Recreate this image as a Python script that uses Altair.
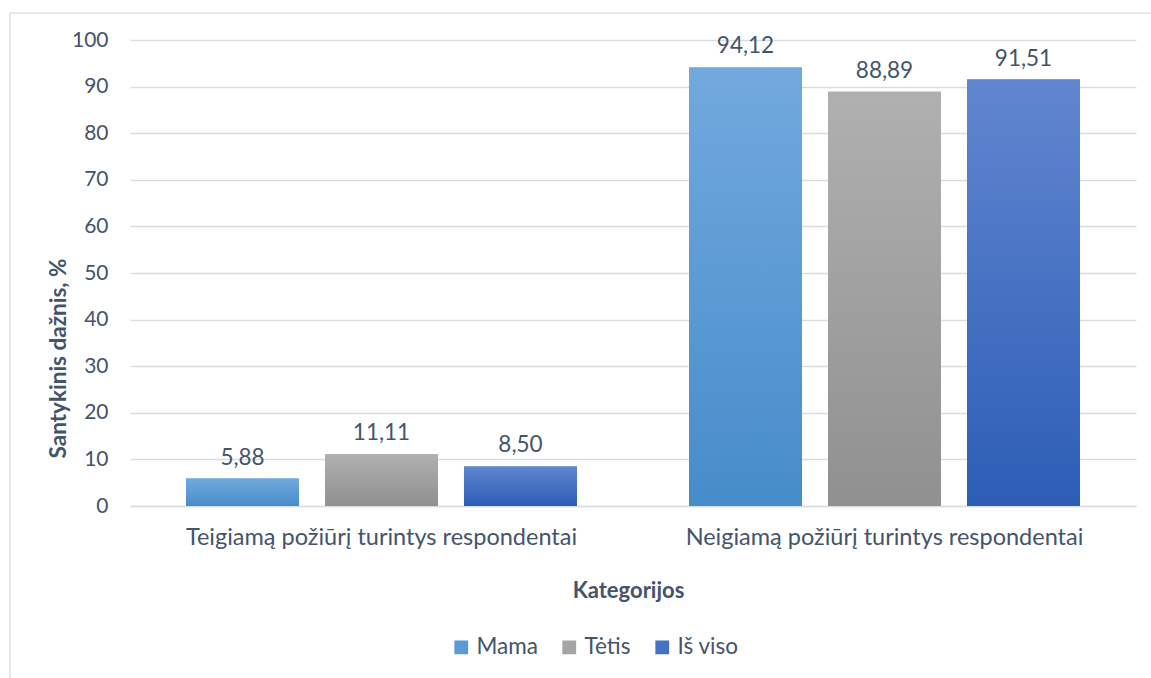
import altair as alt
import pandas as pd

# Categories, series and relative frequencies (%)
categories = [
    "Teigiamą požiūrį turintys respondentai",
    "Neigiamą požiūrį turintys respondentai",
]
series = ["Mama", "Tėtis", "Iš viso"]
positive_values = [5.88, 11.11, 8.50]
negative_values = [94.12, 88.89, 91.51]

# Gradient stops (top, bottom) and legend swatch colour for each series
gradient_top = ["#72a9de", "#b0b0b0", "#6186cf"]
gradient_bottom = ["#468cca", "#909090", "#2c5db6"]
swatch = ["#5b9bd5", "#a5a5a5", "#4472c4"]

rows = []
for cat, vals in zip(categories, [positive_values, negative_values]):
    for s, v in zip(series, vals):
        rows.append({"category": cat, "series": s, "value": v,
                     "label": f"{v:.2f}".replace(".", ",")})
df = pd.DataFrame(rows)

TEXT = "#44546a"
GRID = "#d9dde3"
FONT = "Lato"

x_enc = alt.X("category:N", sort=categories,
              scale=alt.Scale(paddingInner=0, paddingOuter=0),
              axis=alt.Axis(title="Kategorijos", labelAngle=0, labelPadding=19,
                            labelLimit=0, titlePadding=32, ticks=False,
                            titleX=498, titleAlign="center",
                            domainColor=GRID, domainWidth=1.3, labelFontSize=23.5,
                            titleFontSize=22, titleFontWeight="bold"))
xo_enc = alt.XOffset("series:N",
                     scale=alt.Scale(domain=series, paddingInner=0.187,
                                     paddingOuter=0.403))
y_enc = alt.Y("value:Q", scale=alt.Scale(domain=[0, 100]),
              axis=alt.Axis(title="Santykinis dažnis, %", values=list(range(0, 101, 10)),
                            ticks=False, domain=False, labelPadding=22,
                            titleX=-60, titleY=318, titleAlign="center",
                            labelFontSize=21,
                            titleFontSize=22.5, titleFontWeight="bold",
                            gridColor=GRID, gridWidth=1.3))

base = alt.Chart(df)

# Solid bars carry the legend
legend_bars = base.mark_bar().encode(
    x=x_enc, xOffset=xo_enc, y=y_enc,
    color=alt.Color("series:N", sort=series,
                    scale=alt.Scale(domain=series, range=swatch),
                    legend=alt.Legend(title=None, orient="none", direction="horizontal",
                                      legendX=320, legendY=596, symbolType="square",
                                      symbolSize=190, symbolStrokeWidth=0,
                                      labelFontSize=22.5, columnPadding=20,
                                      labelOffset=4, symbolOffset=0)),
)

# Gradient-filled bars drawn over the solid ones
gradient_layers = []
for s, top, bottom in zip(series, gradient_top, gradient_bottom):
    gradient_layers.append(
        base.transform_filter(alt.datum.series == s).mark_bar(
            fill=alt.Gradient(gradient="linear",
                              stops=[alt.GradientStop(color=top, offset=0),
                                     alt.GradientStop(color=bottom, offset=1)],
                              x1=0, x2=0, y1=0, y2=1)
        ).encode(x=x_enc, xOffset=xo_enc, y=y_enc)
    )

labels = base.mark_text(baseline="bottom", dy=-9, fontSize=22.5, color=TEXT, font=FONT).encode(
    x=x_enc, xOffset=xo_enc, y=y_enc, text="label:N"
)

# Light frame around the chart area
frame_top = alt.Chart(pd.DataFrame({"k": [0]})).mark_rule(color="#dde1e8", strokeWidth=1.5).encode(
    x=alt.value(-120), x2=alt.value(1030), y=alt.value(-27)
)
frame_left = alt.Chart(pd.DataFrame({"k": [0]})).mark_rule(color="#dde1e8", strokeWidth=1.5).encode(
    x=alt.value(-120), y=alt.value(-27), y2=alt.value(640)
)

chart = alt.layer(legend_bars, *gradient_layers, labels, frame_top, frame_left).properties(
    width=1006, height=466,
    autosize=alt.AutoSizeParams(type="none"),
    padding={"left": 130, "top": 40, "right": 15, "bottom": 172},
).configure(
    font=FONT,
).configure_axis(
    labelColor=TEXT, titleColor=TEXT, labelFont=FONT, titleFont=FONT,
).configure_legend(
    labelColor=TEXT, labelFont=FONT,
).configure_view(
    stroke=None,
)

chart.save("out.html", embed_options={"renderer": "svg", "actions": False})
